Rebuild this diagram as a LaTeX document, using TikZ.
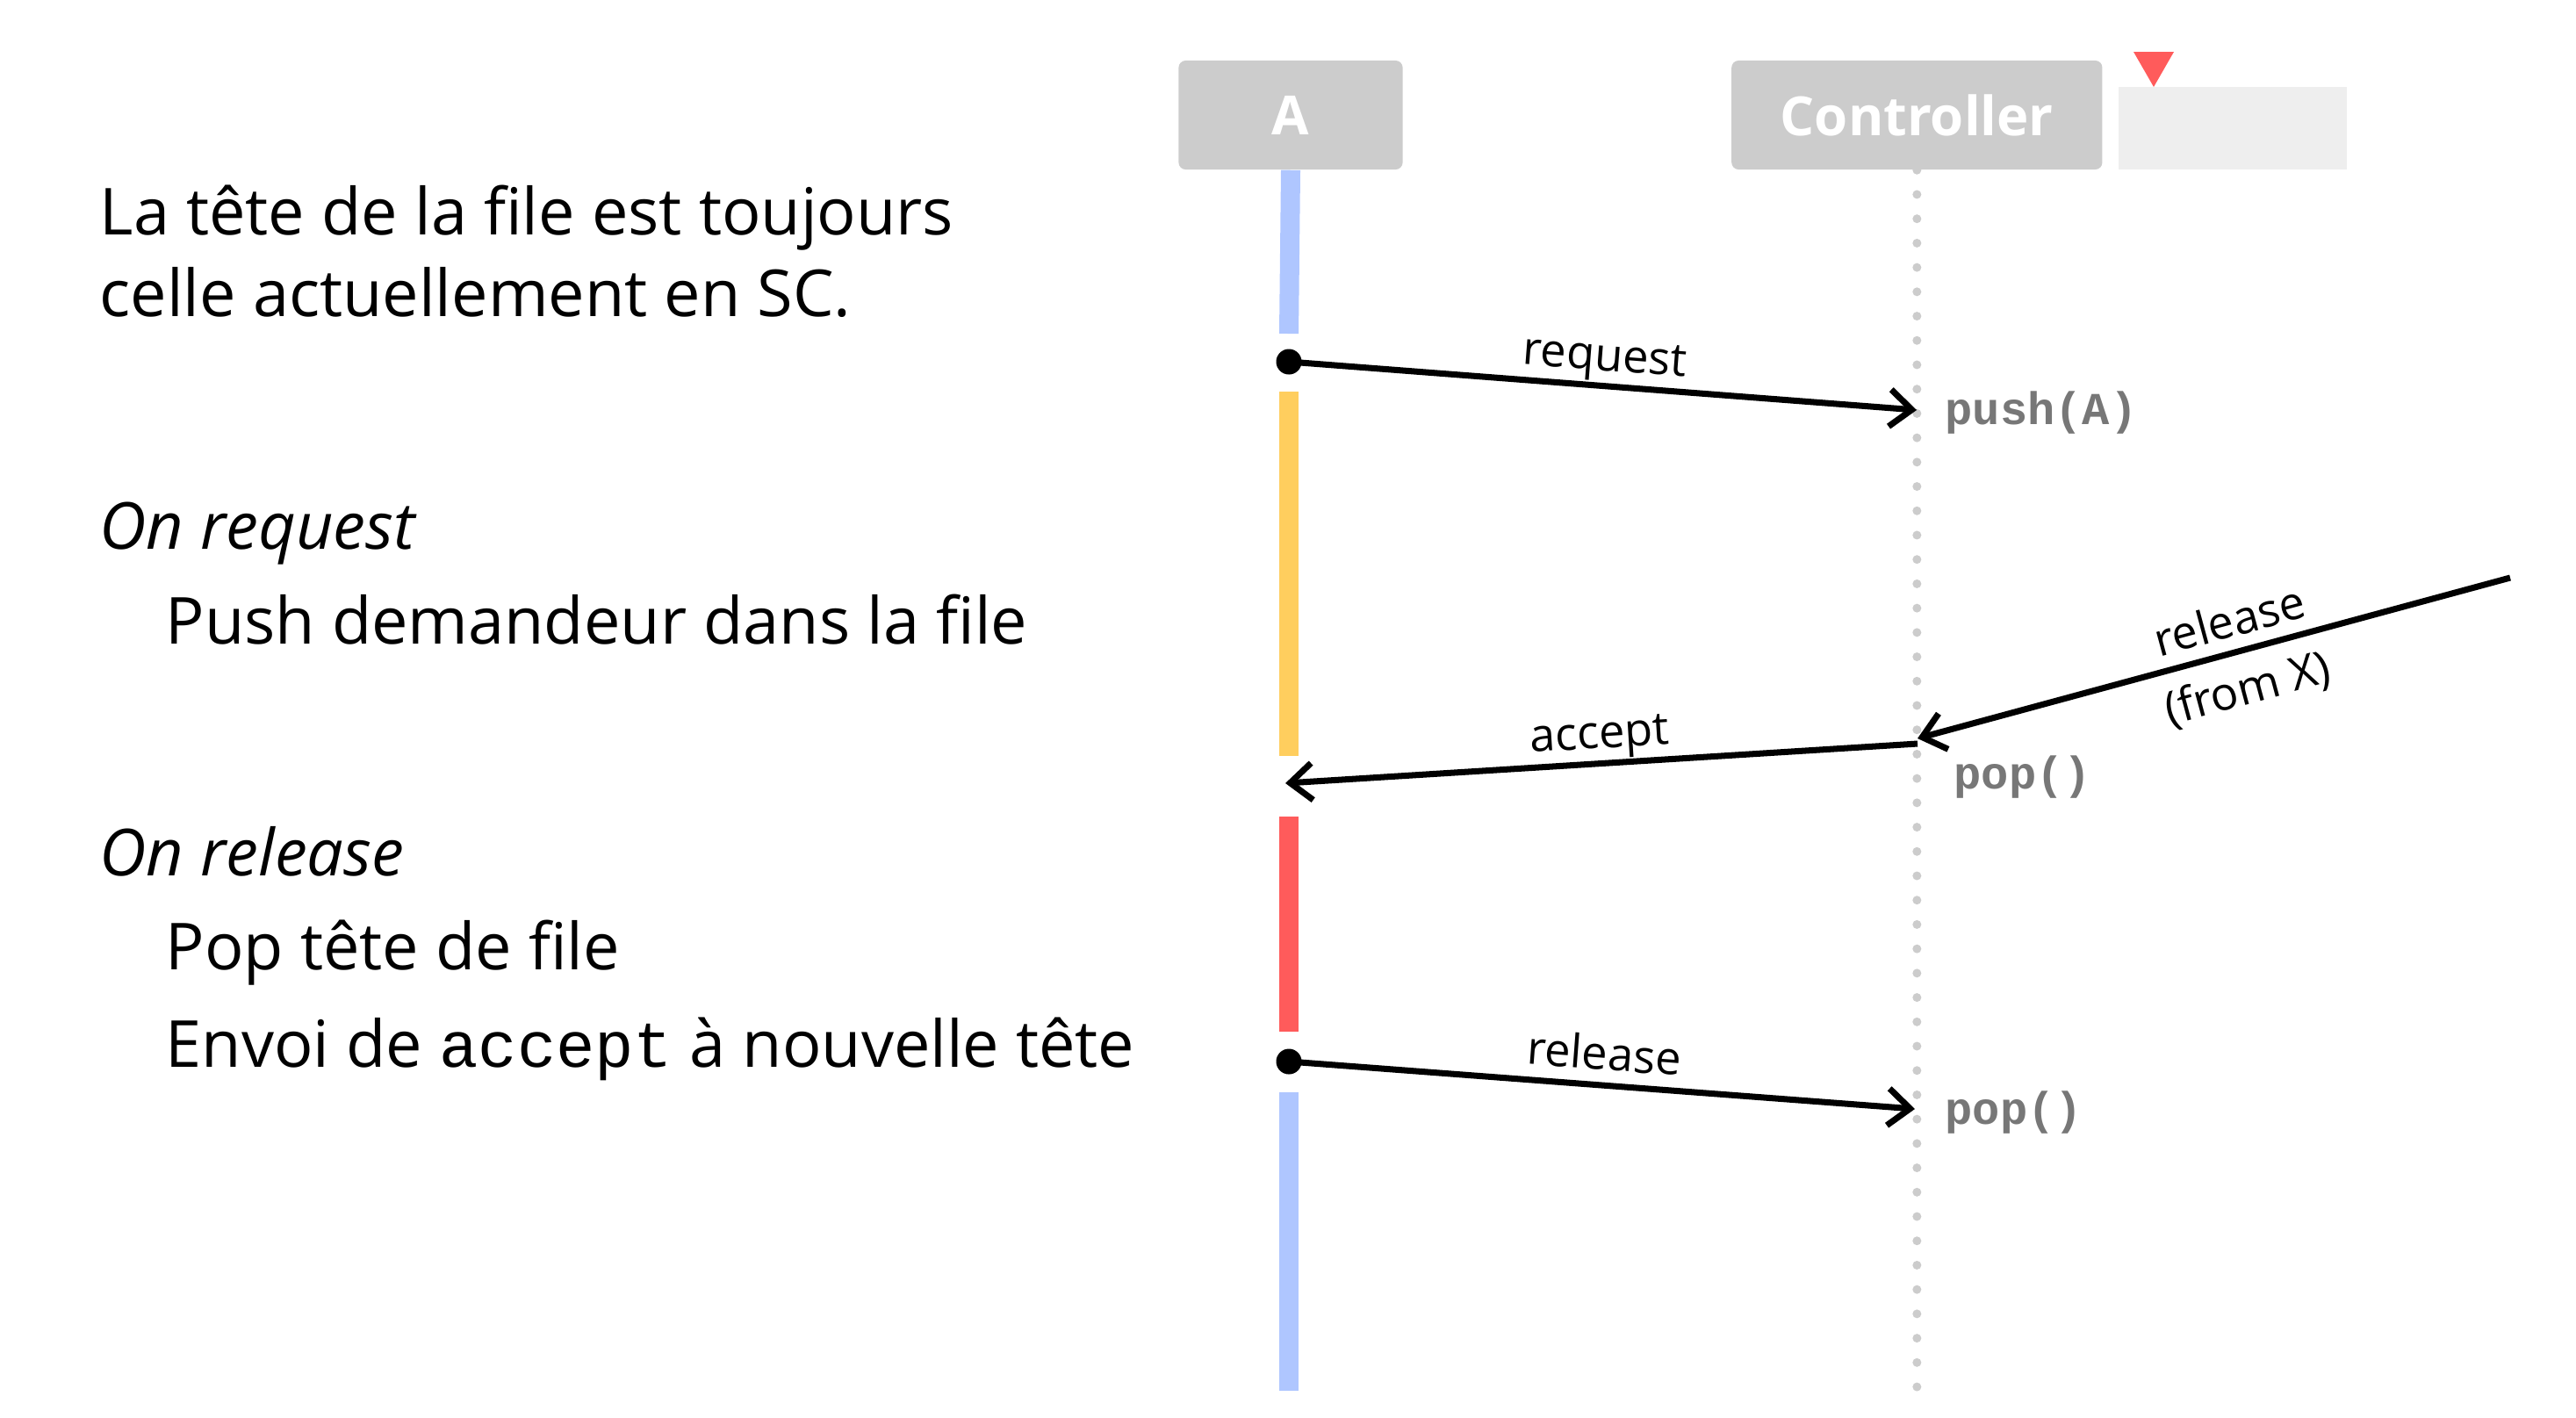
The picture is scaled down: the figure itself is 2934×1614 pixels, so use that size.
\documentclass[tikz,border=0pt]{standalone}
\usepackage{fontspec}
\setmainfont{Open Sans}
\setmonofont{Liberation Mono}
\usetikzlibrary{positioning}
\usetikzlibrary{arrows.meta}

\definecolor{boxgray}{HTML}{CCCCCC}
\definecolor{ghostgray}{HTML}{EEEEEE}
\definecolor{headred}{HTML}{FF5B5B}
\definecolor{idleblue}{HTML}{AFC6FF}
\definecolor{waityellow}{HTML}{FFCE5E}
\definecolor{codegray}{HTML}{777777}

\tikzset{
  actor/.style={fill=boxgray, rounded corners=0.08cm, text=white, inner sep=0pt,
    minimum height=1.24cm, font=\fontsize{17.5}{21}\selectfont\bfseries},
  life/.style={line width=0.22cm},
  dotline/.style={boxgray, line width=0.1cm, line cap=round, dash pattern=on 0pt off 0.277cm},
  msg/.style={line width=2pt, -{Straight Barb[length=0.25cm,width=0.42cm]}},
  msglabel/.style={font=\fontsize{14.9}{18}\selectfont, inner sep=0pt, text depth=0pt, sloped, above=4pt},
  op/.style={font=\fontsize{14.8}{18}\selectfont\ttfamily\bfseries, text=codegray, anchor=base west, inner sep=0pt},
  note/.style={font=\fontsize{21}{26}\selectfont, anchor=base west, inner sep=0pt},
}

\begin{document}
\begin{tikzpicture}[x=0.01cm, y=-0.01cm]
    \useasboundingbox (0,0) rectangle (2934,1614);
    % Define nodes
    \node[actor, minimum width=2.55cm] (A) at (1470,131) {A};
    \node[actor, minimum width=4.22cm, right=3.73cm of A] (C) {Controller};
    \node[fill=ghostgray, inner sep=0pt, minimum width=2.6cm, minimum height=0.94cm,
      above right=0cm and 0.17cm of C.south east] (Q) {};
    \fill[headred] (2430,59) -- (2476,59) -- (2453,99) -- cycle;

    \node[note] (head1) at (113,267) {La tête de la file est toujours};
    \node[note] (head2) at (113,360) {celle actuellement en SC.};
    \node[note] (onreq) at (113,625) {\itshape On request};
    \node[note] (pushtxt) at (188,733) {Push demandeur dans la file};
    \node[note] (onrel) at (113,997) {\itshape On release};
    \node[note] (poptxt) at (188,1104) {Pop tête de file};
    \node[note] (sendtxt) at (188,1215) {Envoi de \texttt{accept} à nouvelle tête};

    \coordinate (a-req) at (1468,412);
    \coordinate (c-req) at (2183,467);
    \coordinate (x-rel) at (2859,658);
    \coordinate (c-rel) at (2184,841);
    \coordinate (c-acc) at (2184,847);
    \coordinate (a-acc) at (1464,892);
    \coordinate (a-rel) at (1468,1209);
    \coordinate (c-pop) at (2181,1263);

    % Lifelines
    \draw[dotline] (C.south) -- ++(0,1392);
    \draw[life, idleblue] (A.south) -- (1468,380);
    \draw[life, waityellow] (1468,446) -- (1468,861);
    \draw[life, headred] (1468,930) -- (1468,1175);
    \draw[life, idleblue] (1468,1244) -- (1468,1584);
    \fill (a-req) circle (0.145cm);
    \fill (a-rel) circle (0.145cm);

    % Connect nodes
    \draw[msg] (a-req) -- node[msglabel] {request} (c-req);
    \draw[msg] (x-rel) -- node[msglabel, pos=0.46] {release}
      node[msglabel, pos=0.46, below=5pt] {(from X)} (c-rel);
    \draw[msg] (c-acc) -- node[msglabel] {accept} (a-acc);
    \draw[msg] (a-rel) -- node[msglabel] {release} (c-pop);

    \node[op] (push) at (2215,483) {push(A)};
    \node[op] (pop1) at (2225,898) {pop()};
    \node[op] (pop2) at (2215,1280) {pop()};
\end{tikzpicture}
\end{document}
